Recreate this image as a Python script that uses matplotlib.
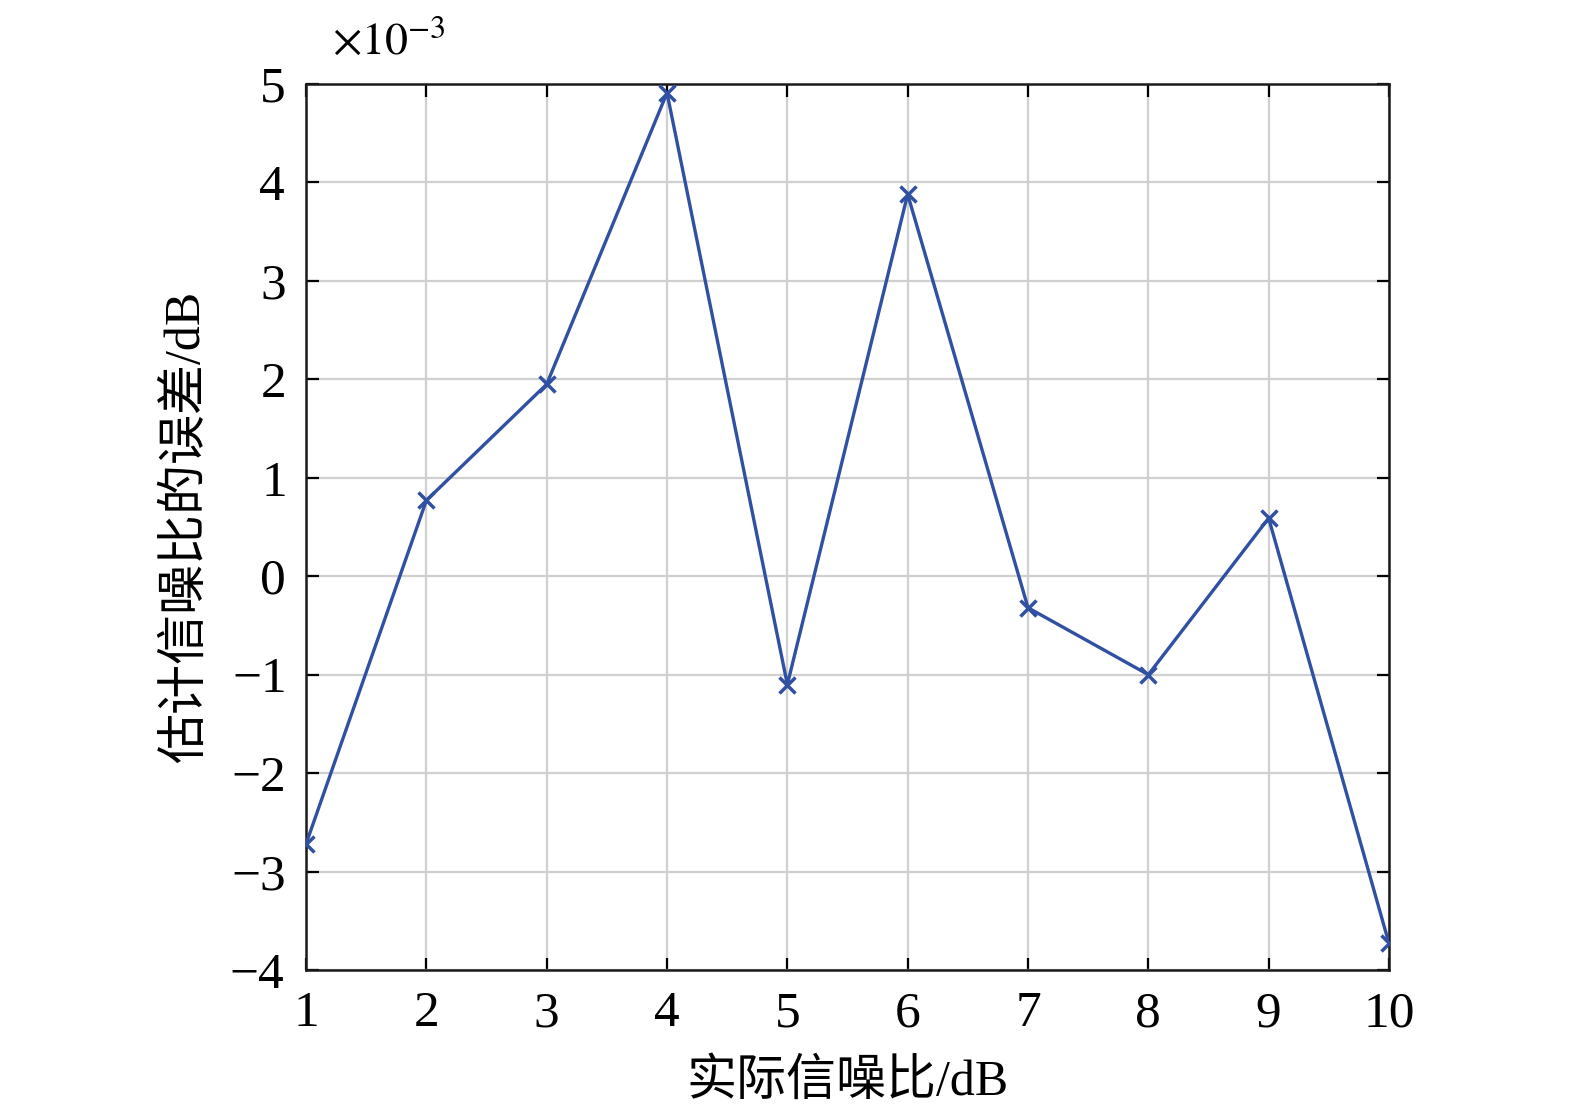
import matplotlib
matplotlib.use("Agg")
import matplotlib.pyplot as plt
from matplotlib.ticker import ScalarFormatter, MultipleLocator

plt.rcParams['font.family'] = ['Liberation Serif', 'Noto Sans CJK SC', 'DejaVu Sans']
plt.rcParams['mathtext.fontset'] = 'stix'
plt.rcParams['axes.unicode_minus'] = True

snr_true = [1, 2, 3, 4, 5, 6, 7, 8, 9, 10]
snr_error = [-2.72e-3, 0.77e-3, 1.95e-3, 4.91e-3, -1.10e-3, 3.88e-3,
             -0.32e-3, -1.00e-3, 0.59e-3, -3.73e-3]
xlabel = "实际信噪比/dB"
ylabel = "估计信噪比的误差/dB"
offset_label = r"$\times10^{-3}$"

fig = plt.figure(figsize=(15.75, 11.11), dpi=100)
ax = fig.add_axes([0.1943, 0.1269, 0.6876, 0.7975])

ax.plot(snr_true, snr_error, color='#3050A2', lw=2.4, marker='x',
        markersize=11, markeredgewidth=2.5, zorder=3)

ax.set_xlim(1, 10)
ax.set_ylim(-4e-3, 5e-3)
ax.xaxis.set_major_locator(MultipleLocator(1))
ax.yaxis.set_major_locator(MultipleLocator(1e-3))
fmt = ScalarFormatter(useMathText=True)
fmt.set_powerlimits((-2, 2))
ax.yaxis.set_major_formatter(fmt)
ax.yaxis.get_offset_text().set_visible(False)
fig.text(0.211, 0.962, offset_label, fontsize=33, ha='left', va='center')

ax.grid(True, color='#d0d0d0', lw=1.6, zorder=0)
for s in ax.spines.values():
    s.set_linewidth(1.8)
    s.set_color('#1a1a1a')
ax.tick_params(direction='in', length=9, width=1.6, labelsize=37,
               top=True, right=True, pad=15)

ax.set_xlabel(xlabel, fontsize=36, labelpad=16)
ax.set_ylabel(ylabel, fontsize=36, labelpad=14)

fig.savefig("out.png", dpi=100)
